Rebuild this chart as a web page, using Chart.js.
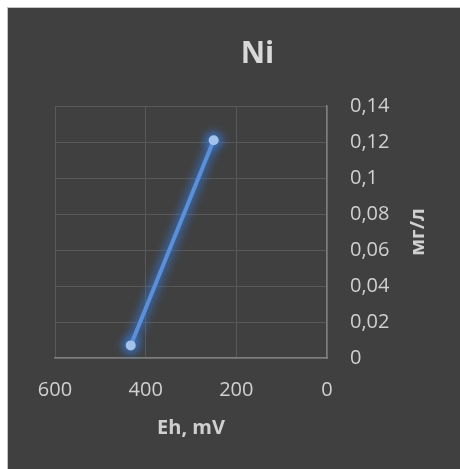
<!DOCTYPE html>
<html>
<head>
<meta charset="utf-8">
<script src="https://cdn.jsdelivr.net/npm/chart.js@4"></script>
<style>
    html, body { margin: 0; padding: 0; background: #ffffff; }
    #frame {
        position: absolute; left: 7px; top: 7px; width: 453px; height: 462px;
        border-left: 1px solid #c4c4c4; border-top: 1px solid #c4c4c4;
        background: #404040;
    }
    #chart { display: block; }
</style>
</head>
<body>
<div id="frame"><canvas id="chart" width="452" height="461"></canvas></div>
<script>
// values
const ehValues = [433, 250];          // Eh, mV
const niValues = [0.007, 0.121];      // мг/л
const xTickValues = [600, 400, 200, 0];
const yTickValues = [0, 0.02, 0.04, 0.06, 0.08, 0.1, 0.12, 0.14];

const textColor = '#d0d0d0';
const gridColor = '#595959';
const axisColor = '#7f7f7f';

const points = ehValues.map((x, i) => ({ x: x, y: niValues[i] }));

// soft blue halo under the line, like the Excel glow effect
const glowPlugin = {
    id: 'glow',
    beforeDatasetsDraw(chart) {
        const ctx = chart.ctx;
        const els = chart.getDatasetMeta(0).data;
        ctx.save();
        ctx.filter = 'blur(4px)';
        ctx.strokeStyle = 'rgba(55, 125, 230, 0.55)';
        ctx.fillStyle = 'rgba(55, 125, 230, 0.55)';
        ctx.lineWidth = 11;
        ctx.lineCap = 'round';
        ctx.beginPath();
        els.forEach((p, i) => i ? ctx.lineTo(p.x, p.y) : ctx.moveTo(p.x, p.y));
        ctx.stroke();
        els.forEach(p => {
            ctx.beginPath();
            ctx.arc(p.x, p.y, 9, 0, Math.PI * 2);
            ctx.fill();
        });
        ctx.restore();
    }
};

// axis titles drawn by hand: the y one reads bottom to top on the right
const axisTitlePlugin = {
    id: 'axisTitles',
    afterDraw(chart) {
        const ctx = chart.ctx;
        const area = chart.chartArea;
        ctx.save();
        ctx.font = 'bold 20px "Open Sans"';
        ctx.fillStyle = textColor;
        ctx.textAlign = 'center';
        ctx.textBaseline = 'middle';
        ctx.fillText('Eh, mV', (area.left + area.right) / 2, area.bottom + 70);
        ctx.translate(area.right + 91, (area.top + area.bottom) / 2);
        ctx.rotate(-Math.PI / 2);
        ctx.fillText('мг/л', 0, 0);
        ctx.restore();
    }
};

new Chart(document.getElementById('chart'), {
    type: 'scatter',
    data: {
        datasets: [{
            data: points,
            showLine: true,
            borderColor: '#5b8fd8',
            borderWidth: 4,
            pointRadius: 5,
            pointBackgroundColor: '#a2c2ea',
            pointBorderWidth: 0,
            pointHoverRadius: 5
        }]
    },
    options: {
        responsive: false,
        animation: false,
        layout: { padding: { left: 47, right: 0, top: 0, bottom: 0 } },
        plugins: {
            legend: { display: false },
            tooltip: { enabled: false },
            title: {
                display: true,
                text: 'Ni',
                color: '#d9d9d9',
                font: { family: 'Open Sans', size: 30, weight: 'bold' },
                padding: { top: 28, bottom: 34 }
            }
        },
        scales: {
            x: {
                type: 'linear',
                reverse: true,
                min: 0,
                max: 600,
                afterBuildTicks: (scale) => { scale.ticks = xTickValues.map(v => ({ value: v })); },
                afterFit: (scale) => { scale.height = 111; },
                grid: { color: gridColor, drawTicks: false },
                border: { color: axisColor, width: 1.5 },
                ticks: {
                    color: textColor,
                    padding: 20,
                    maxRotation: 0,
                    font: { family: 'Open Sans', size: 20 }
                }
            },
            y: {
                position: 'right',
                min: 0,
                max: 0.14,
                afterBuildTicks: (scale) => { scale.ticks = yTickValues.map(v => ({ value: v })); },
                afterFit: (scale) => { scale.width = 133; },
                grid: { color: gridColor, drawTicks: false },
                border: { color: axisColor, width: 1.5 },
                ticks: {
                    color: textColor,
                    padding: 23,
                    font: { family: 'Open Sans', size: 20 },
                    callback: (v) => String(Math.round(v * 100) / 100).replace('.', ',')
                }
            }
        }
    },
    plugins: [glowPlugin, axisTitlePlugin]
});
</script>
</body>
</html>
